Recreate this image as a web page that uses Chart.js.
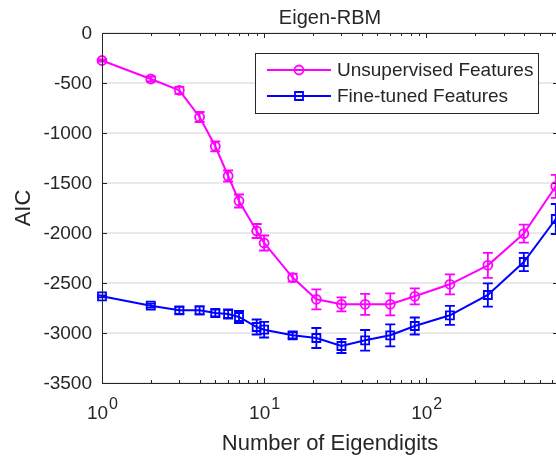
<!DOCTYPE html>
<html>
<head>
<meta charset="utf-8">
<title>Eigen-RBM</title>
<script src="https://cdn.jsdelivr.net/npm/chart.js@4.4.1/dist/chart.umd.min.js"></script>
<style>
  html, body { margin: 0; padding: 0; background: #fff; overflow: hidden; }
  #wrap { width: 556px; height: 456px; overflow: hidden; }
</style>
</head>
<body>
<div id="wrap"><canvas id="myChart" width="560" height="456"></canvas></div>
<script>
// x positions (number of eigendigits)
let eigendigits = [1, 2, 3, 4, 5, 6, 7, 9, 10, 15, 21, 30, 42, 60, 85, 140, 240, 400, 630];

// AIC values
let unsupervised = [-275, -460, -573, -840, -1133, -1430, -1680, -1980, -2100, -2446, -2663, -2713, -2713, -2713, -2633, -2513, -2323, -2006, -1533];
let unsupervisedErr = [10, 25, 35, 50, 50, 55, 65, 70, 75, 40, 100, 70, 105, 110, 80, 100, 125, 90, 115];
let fineTuned = [-2633, -2727, -2773, -2773, -2800, -2810, -2840, -2940, -2967, -3023, -3050, -3130, -3073, -3023, -2930, -2823, -2620, -2290, -1860];
let fineTunedErr = [10, 20, 35, 40, 33, 45, 60, 75, 78, 30, 100, 70, 103, 110, 85, 95, 117, 92, 150];

// axis ticks
let yTicks = [0, -500, -1000, -1500, -2000, -2500, -3000, -3500];
let yTickLabels = ["0", "-500", "-1000", "-1500", "-2000", "-2500", "-3000", "-3500"];
let xDecades = [1, 10, 100];
let xDecadeExp = ["0", "1", "2"];

const FONT = '"Liberation Sans", Arial, Helvetica, sans-serif';
const AXIS_COLOR = "#262626";
const MAGENTA = "#ff00ff";
const BLUE = "#0000ff";

function setFont(ctx, size) {
  ctx.font = size + "px " + FONT;
}

function drawErrorBars(chart, values, errors, color) {
  let ctx = chart.ctx;
  let x = chart.scales.x;
  let y = chart.scales.y;
  ctx.save();
  ctx.strokeStyle = color;
  ctx.lineWidth = 1.8;
  for (let i = 0; i < values.length; i++) {
    let px = x.getPixelForValue(eigendigits[i]);
    let top = y.getPixelForValue(values[i] + errors[i]);
    let bottom = y.getPixelForValue(values[i] - errors[i]);
    ctx.beginPath();
    ctx.moveTo(px, top);
    ctx.lineTo(px, bottom);
    ctx.moveTo(px - 5, top);
    ctx.lineTo(px + 5, top);
    ctx.moveTo(px - 5, bottom);
    ctx.lineTo(px + 5, bottom);
    ctx.stroke();
  }
  ctx.restore();
}

function drawMarker(ctx, style, x, y, color) {
  ctx.save();
  ctx.strokeStyle = color;
  ctx.lineWidth = 1.8;
  ctx.beginPath();
  if (style == "circle") {
    ctx.arc(x, y, 4.5, 0, Math.PI * 2);
  } else {
    ctx.rect(x - 4, y - 4, 8, 8);
  }
  ctx.stroke();
  ctx.restore();
}

const axesPlugin = {
  id: "matlabAxes",
  beforeDatasetsDraw(chart) {
    let ctx = chart.ctx;
    let a = chart.chartArea;
    let y = chart.scales.y;
    ctx.save();
    ctx.strokeStyle = "#e2e2e2";
    ctx.lineWidth = 1.5;
    for (let i = 0; i < yTicks.length; i++) {
      let py = y.getPixelForValue(yTicks[i]);
      ctx.beginPath();
      ctx.moveTo(a.left, py);
      ctx.lineTo(a.right, py);
      ctx.stroke();
    }
    ctx.restore();
  },
  afterDatasetsDraw(chart) {
    let ctx = chart.ctx;
    let a = chart.chartArea;
    let x = chart.scales.x;
    let y = chart.scales.y;

    drawErrorBars(chart, unsupervised, unsupervisedErr, MAGENTA);
    drawErrorBars(chart, fineTuned, fineTunedErr, BLUE);

    ctx.save();
    // frame
    ctx.strokeStyle = AXIS_COLOR;
    ctx.lineWidth = 1;
    ctx.strokeRect(Math.round(a.left) + 0.5, Math.round(a.top) + 0.5, Math.round(a.right - a.left), Math.round(a.bottom - a.top));

    // x ticks, major and minor, pointing inward on bottom and top
    ctx.beginPath();
    for (let d = 1; d <= 100; d *= 10) {
      for (let m = 1; m < 10; m++) {
        let v = d * m;
        if (v > x.max) continue;
        let px = Math.round(x.getPixelForValue(v)) + 0.5;
        let len = m == 1 ? 5 : 3;
        ctx.moveTo(px, a.bottom);
        ctx.lineTo(px, a.bottom - len);
        ctx.moveTo(px, a.top);
        ctx.lineTo(px, a.top + len);
      }
    }
    // y ticks on left and right
    for (let i = 0; i < yTicks.length; i++) {
      let py = Math.round(y.getPixelForValue(yTicks[i])) + 0.5;
      ctx.moveTo(a.left, py);
      ctx.lineTo(a.left + 5, py);
      ctx.moveTo(a.right, py);
      ctx.lineTo(a.right - 5, py);
    }
    ctx.stroke();

    // y tick labels
    ctx.fillStyle = AXIS_COLOR;
    setFont(ctx, 19);
    ctx.textAlign = "right";
    ctx.textBaseline = "middle";
    for (let i = 0; i < yTicks.length; i++) {
      ctx.fillText(yTickLabels[i], a.left - 10, y.getPixelForValue(yTicks[i]) + 1);
    }

    // x tick labels as 10^n
    ctx.textAlign = "left";
    ctx.textBaseline = "alphabetic";
    for (let i = 0; i < xDecades.length; i++) {
      let px = x.getPixelForValue(xDecades[i]);
      setFont(ctx, 19);
      let wBase = ctx.measureText("10").width;
      setFont(ctx, 16);
      let wExp = ctx.measureText(xDecadeExp[i]).width;
      let start = px - (wBase + wExp) / 2;
      setFont(ctx, 19);
      ctx.fillText("10", start, 419);
      setFont(ctx, 16);
      ctx.fillText(xDecadeExp[i], start + wBase + 1, 409);
    }

    // axis labels and title
    ctx.textAlign = "center";
    setFont(ctx, 22);
    ctx.fillText("Number of Eigendigits", (a.left + a.right) / 2, 450);
    setFont(ctx, 20);
    ctx.fillText("Eigen-RBM", (a.left + a.right) / 2, 24);
    ctx.save();
    ctx.translate(30, 208);
    ctx.rotate(-Math.PI / 2);
    setFont(ctx, 22);
    ctx.fillText("AIC", 0, 0);
    ctx.restore();

    // legend
    ctx.fillStyle = "#ffffff";
    ctx.fillRect(255, 53, 283, 60);
    ctx.strokeStyle = AXIS_COLOR;
    ctx.lineWidth = 1;
    ctx.strokeRect(255.5, 53.5, 283, 60);
    let rows = [
      { label: chart.data.datasets[0].label, color: MAGENTA, style: "circle", y: 70 },
      { label: chart.data.datasets[1].label, color: BLUE, style: "rect", y: 96 },
    ];
    for (let r of rows) {
      ctx.strokeStyle = r.color;
      ctx.lineWidth = 2;
      ctx.beginPath();
      ctx.moveTo(267, r.y);
      ctx.lineTo(331, r.y);
      ctx.stroke();
      drawMarker(ctx, r.style, 299, r.y, r.color);
      ctx.fillStyle = AXIS_COLOR;
      setFont(ctx, 19);
      ctx.textAlign = "left";
      ctx.textBaseline = "middle";
      ctx.fillText(r.label, 337, r.y + 1);
    }
    ctx.restore();
  },
};

function makePoints(values) {
  let points = [];
  for (let i = 0; i < values.length; i++) {
    points.push({ x: eigendigits[i], y: values[i] });
  }
  return points;
}

function init() {
  const ctx = document.getElementById("myChart");
  new Chart(ctx, {
    type: "line",
    data: {
      datasets: [
        {
          label: "Unsupervised Features",
          data: makePoints(unsupervised),
          borderColor: MAGENTA,
          borderWidth: 2,
          pointStyle: "circle",
          pointRadius: 4.5,
          pointBorderWidth: 1.8,
          pointBorderColor: MAGENTA,
          pointBackgroundColor: "rgba(0,0,0,0)",
          tension: 0,
          clip: false,
        },
        {
          label: "Fine-tuned Features",
          data: makePoints(fineTuned),
          borderColor: BLUE,
          borderWidth: 2,
          pointStyle: "rect",
          pointRadius: 5.66,
          pointBorderWidth: 1.8,
          pointBorderColor: BLUE,
          pointBackgroundColor: "rgba(0,0,0,0)",
          tension: 0,
          clip: false,
        },
      ],
    },
    options: {
      responsive: false,
      animation: false,
      devicePixelRatio: 1,
      layout: {
        autoPadding: false,
        padding: { left: 102, right: 2, top: 33, bottom: 73 },
      },
      plugins: {
        legend: { display: false },
        tooltip: { enabled: false },
      },
      scales: {
        x: { type: "logarithmic", min: 1, max: 650, display: false },
        y: { type: "linear", min: -3500, max: 0, display: false },
      },
    },
    plugins: [axesPlugin],
  });
}

init();
</script>
</body>
</html>
